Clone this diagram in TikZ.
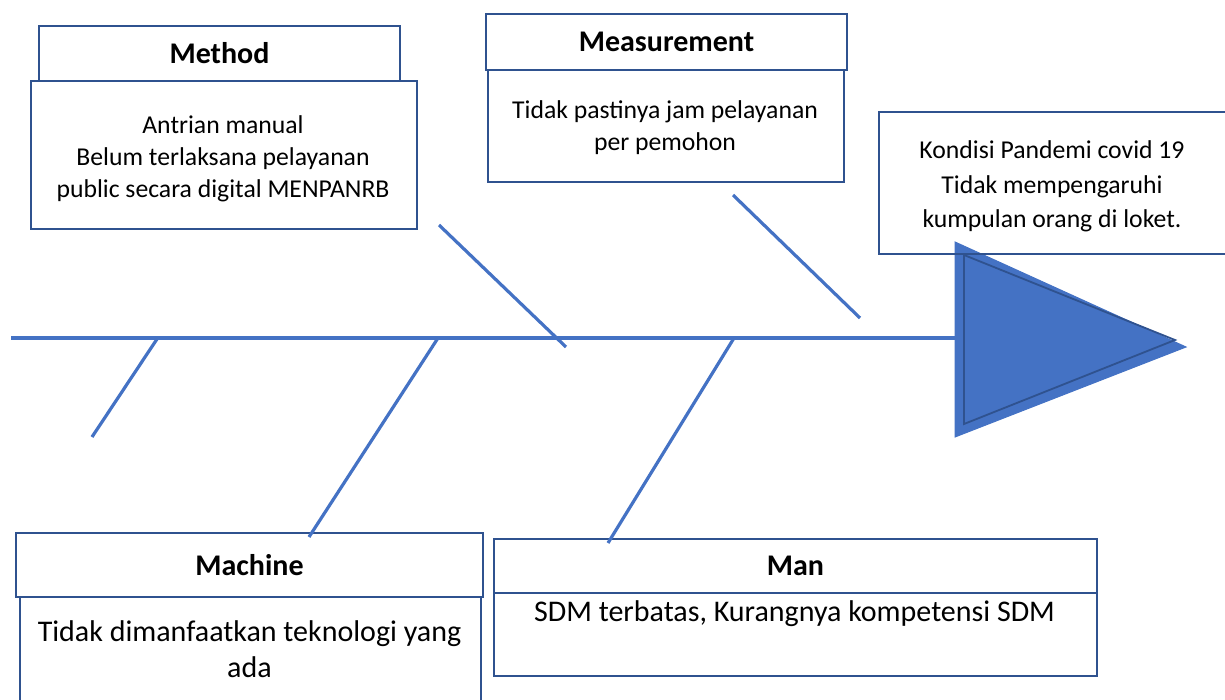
\documentclass[tikz,border=0pt]{standalone}
\usepackage{fontspec}
\setmainfont{Carlito}
\definecolor{spine}{HTML}{4472C4}
\definecolor{edge}{HTML}{2F528F}
\begin{document}
\begin{tikzpicture}[x=1pt,y=-1pt,
  bone/.style={draw=spine, line width=3.2pt},
  box/.style={draw=edge, line width=2pt, rectangle, inner sep=0pt, anchor=north west},
  head/.style={font=\fontsize{30}{34}\selectfont\bfseries},
  body/.style={align=center, inner sep=0pt, anchor=north, font=\fontsize{25.7}{32}\selectfont},
  bodybig/.style={align=center, inner sep=0pt, anchor=north, font=\fontsize{30}{36}\selectfont}]
\useasboundingbox (0,0) rectangle (1225,700);
\begin{scope}
\clip (0,0) rectangle (1225,700);
% spine and head
\coordinate (s0) at (11,338);
\coordinate (s1) at (955,338);
\draw[bone] (s0) -- (s1);
\filldraw[fill=spine, draw=spine, line width=1pt] (955,242) -- (1186,347) -- (955,437) -- cycle;
\draw[edge, line width=1.8pt] (964,255) -- (1175,340) -- (964,424) -- cycle;
% boxes
\node[box, minimum width=361, minimum height=55, head] (methodh) at (38,25) {Method};
\node[box, minimum width=386, minimum height=148] (methodb) at (30,80) {};
\node[body] (methodt) at (223,115) {Antrian manual\\Belum terlaksana pelayanan\\public secara digital MENPANRB};
\node[box, minimum width=361, minimum height=56, head] (meash) at (485,13) {Measurement};
\node[box, minimum width=356, minimum height=112] (measb) at (487,69) {};
\node[body] (meast) at (665,100) {Tidak pastinya jam pelayanan\\per pemohon};
\node[box, minimum width=348, minimum height=142] (effect) at (878,111) {};
\node[body, font=\fontsize{25.7}{34.5}\selectfont] (effectt) at (1052,140.5) {Kondisi Pandemi covid 19\\Tidak mempengaruhi\\kumpulan orang di loket.};
\node[box, minimum width=467, minimum height=64, head] (machh) at (15,532) {Machine};
\node[box, minimum width=461, minimum height=130] (machb) at (19,596) {};
\node[bodybig] (macht) at (249.5,620) {Tidak dimanfaatkan teknologi yang\\ada};
\node[box, minimum width=603, minimum height=54, head] (manh) at (493,538) {Man};
\node[box, minimum width=603, minimum height=83] (manb) at (493,592) {};
\node[bodybig] (mant) at (794.5,600) {SDM terbatas, Kurangnya kompetensi SDM};
% bones
\coordinate (b1a) at (439,225); \coordinate (b1b) at (566,347);
\coordinate (b2a) at (733,195); \coordinate (b2b) at (860,318);
\coordinate (b3a) at (157,339); \coordinate (b3b) at (92,437);
\coordinate (b4a) at (438,338); \coordinate (b4b) at (309,537);
\coordinate (b5a) at (734,338); \coordinate (b5b) at (608,543);
\draw[bone] (b1a) -- (b1b);
\draw[bone] (b2a) -- (b2b);
\draw[bone] (b3a) -- (b3b);
\draw[bone] (b4a) -- (b4b);
\draw[bone] (b5a) -- (b5b);
\end{scope}
\end{tikzpicture}
\end{document}
